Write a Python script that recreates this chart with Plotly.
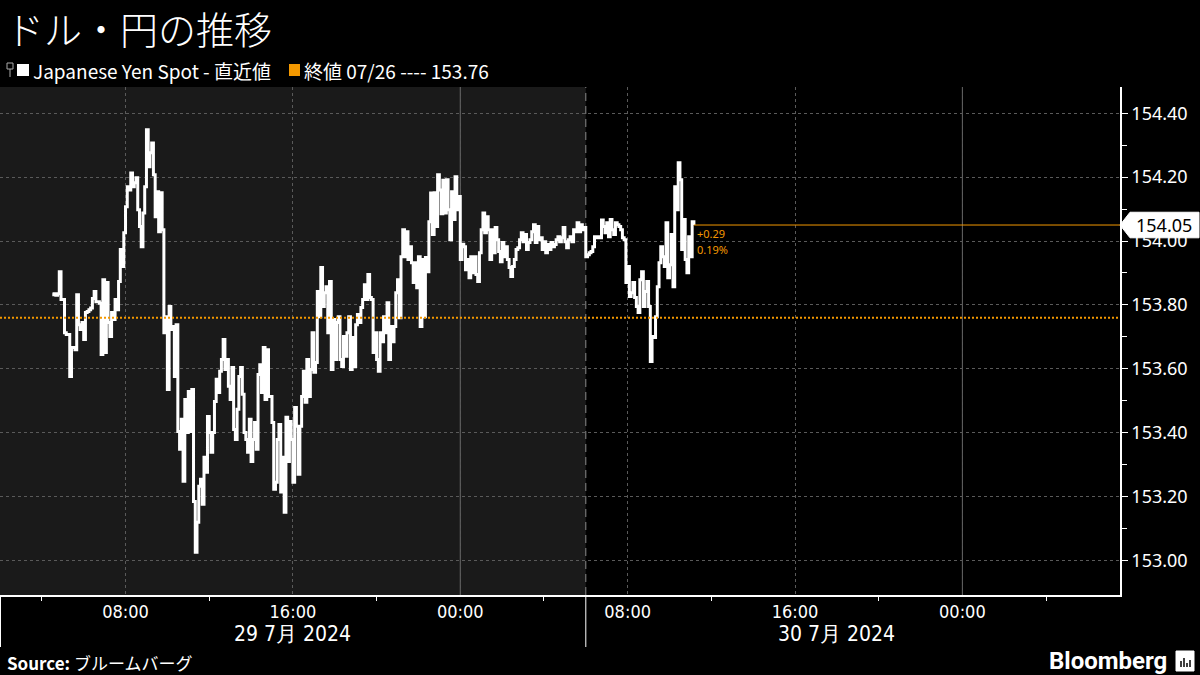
import plotly.graph_objects as go
import pandas as pd

# ---------------- data ----------------
TITLE = "ドル・円の推移"
SERIES_NAME = "Japanese Yen Spot - 直近値"
PREV_LABEL = "終値 07/26 ---- 153.76"
SOURCE_TEXT = "ブルームバーグ"
START = "2024-07-29 04:30"
STEP = "5min"
PREV_CLOSE = 153.76
LAST = 154.05

values = [
    153.832, 153.835, 153.830, 153.835, 153.904, 153.817, 153.817, 153.713, 153.707, 153.707,
    153.576, 153.667, 153.667, 153.660, 153.832, 153.738, 153.723, 153.745, 153.692, 153.776,
    153.779, 153.785, 153.790, 153.820, 153.842, 153.810, 153.810, 153.805, 153.645, 153.879,
    153.651, 153.870, 153.745, 153.701, 153.776, 153.754, 153.817, 153.785, 153.873, 153.973,
    153.920, 154.026, 154.107, 154.170, 154.160, 154.213, 154.170, 154.182, 154.198, 154.098,
    154.045, 153.982, 154.088, 154.170, 154.348, 154.232, 154.276, 154.307, 154.207, 154.076,
    154.154, 154.029, 154.151, 154.035, 153.713, 153.763, 153.535, 153.795, 153.723, 153.732,
    153.576, 153.738, 153.404, 153.348, 153.442, 153.248, 153.504, 153.401, 153.529, 153.404,
    153.535, 153.185, 153.026, 153.120, 153.232, 153.254, 153.176, 153.323, 153.276, 153.451,
    153.401, 153.339, 153.401, 153.498, 153.567, 153.526, 153.592, 153.629, 153.692, 153.598,
    153.629, 153.545, 153.504, 153.604, 153.410, 153.379, 153.473, 153.576, 153.604, 153.520,
    153.401, 153.379, 153.339, 153.442, 153.310, 153.379, 153.432, 153.348, 153.582, 153.613,
    153.526, 153.667, 153.504, 153.660, 153.513, 153.513, 153.432, 153.223, 153.245, 153.379,
    153.426, 153.214, 153.323, 153.151, 153.448, 153.310, 153.435, 153.379, 153.245, 153.479,
    153.420, 153.270, 153.420, 153.513, 153.592, 153.495, 153.629, 153.513, 153.598, 153.713,
    153.589, 153.620, 153.842, 153.763, 153.917, 153.795, 153.838, 153.857, 153.713, 153.873,
    153.598, 153.754, 153.629, 153.745, 153.763, 153.629, 153.607, 153.701, 153.639, 153.713,
    153.763, 153.598, 153.698, 153.607, 153.738, 153.770, 153.745, 153.792, 153.817, 153.863,
    153.817, 153.895, 153.823, 153.817, 153.651, 153.713, 153.629, 153.592, 153.713, 153.685,
    153.763, 153.713, 153.807, 153.629, 153.732, 153.685, 153.732, 153.838, 153.879, 153.760,
    153.951, 154.035, 153.951, 154.029, 153.942, 153.982, 153.932, 153.870, 153.932, 153.854,
    153.951, 153.732, 153.942, 153.763, 153.948, 153.904, 154.060, 154.150, 154.020, 154.151,
    154.045, 154.207, 154.160, 154.085, 154.190, 154.088, 154.192, 154.098, 154.004, 154.154,
    154.067, 154.201, 154.098, 154.139, 153.942, 153.990, 153.982, 153.910, 153.942, 153.885,
    153.951, 153.901, 153.951, 153.895, 153.873, 153.963, 154.035, 154.088, 154.026, 154.076,
    154.035, 153.942, 154.035, 153.963, 154.042, 154.004, 153.967, 153.935, 153.995, 153.951,
    153.982, 153.942, 153.917, 153.889, 153.920, 153.942, 153.973, 153.979, 154.004, 154.026,
    153.998, 154.020, 153.973, 153.995, 154.004, 154.029, 154.051, 153.995, 154.045, 154.004,
    154.010, 153.973, 153.998, 153.963, 153.989, 153.973, 153.995, 153.982, 153.989, 154.004,
    154.013, 153.998, 154.010, 154.042, 153.998, 153.979, 154.004, 154.013, 153.998, 154.035,
    154.029, 154.057, 154.029, 154.051, 154.035, 154.042, 153.951, 153.957, 153.963, 153.967,
    153.982, 154.013, 154.010, 154.013, 154.010, 154.066, 154.045, 154.026, 154.057, 154.013,
    154.067, 154.035, 154.020, 154.057, 154.051, 154.045, 154.035, 154.010, 154.004, 153.870,
    153.920, 153.826, 153.838, 153.870, 153.823, 153.795, 153.776, 153.879, 153.904, 153.795,
    153.842, 153.873, 153.795, 153.623, 153.701, 153.698, 153.763, 153.857, 153.932, 153.982,
    153.951, 153.920, 154.057, 153.885, 153.926, 154.020, 153.857, 154.170, 154.098, 154.245,
    154.192, 153.973, 154.067, 153.942, 153.901, 154.013, 153.951, 154.060, 154.050,
]

Y_TICKS = [153.00, 153.20, 153.40, 153.60, 153.80, 154.00, 154.20, 154.40]
Y_MINOR = [153.10, 153.30, 153.50, 153.70, 153.90, 154.10, 154.30]
X_TICKS = ["2024-07-29 08:00", "2024-07-29 16:00", "2024-07-30 00:00",
           "2024-07-30 08:00", "2024-07-30 16:00", "2024-07-31 00:00"]
X_TICK_TEXT = ["08:00", "16:00", "00:00", "08:00", "16:00", "00:00"]
X_MINOR = ["2024-07-29 04:00", "2024-07-29 12:00", "2024-07-29 20:00", "2024-07-30 04:00",
           "2024-07-30 12:00", "2024-07-30 20:00", "2024-07-31 04:00"]
MIDNIGHTS = ["2024-07-30 00:00", "2024-07-31 00:00"]
DAY_LABELS = ["29 7月 2024", "30 7月 2024"]
SESSION_BREAK = "2024-07-30 06:00"
X_RANGE = ["2024-07-29 02:00", "2024-07-31 07:32"]
Y_RANGE = [152.892, 154.482]

times = pd.date_range(START, periods=len(values), freq=STEP)

# ---------------- layout helpers ----------------
W, H = 1200, 675
ML, MR, MT, MB = 0, 80, 87, 80
PW, PH = W - ML - MR, H - MT - MB


def px(x):
    return (x - ML) / PW


def py(y):
    return (H - MB - y) / PH


ORANGE = "#f39800"
GRID = "#5a5a5a"
CJK = "Noto Sans CJK JP, Noto Sans, sans-serif"
NARROW = "DejaVu Sans Condensed, Liberation Sans Narrow, Roboto, sans-serif"

fig = go.Figure()

fig.add_trace(go.Scatter(
    x=times, y=values, mode="lines",
    line=dict(color="white", width=3, shape="hv"),
    hoverinfo="skip", showlegend=False,
))

fig.add_trace(go.Scatter(
    x=[times[-1], X_RANGE[1]], y=[LAST, LAST], mode="lines",
    line=dict(color=ORANGE, width=1), hoverinfo="skip", showlegend=False,
))

shapes = []
shapes.append(dict(type="rect", xref="x", yref="paper", x0=X_RANGE[0], x1=SESSION_BREAK,
                   y0=0, y1=1, fillcolor="#1a1a1a", line=dict(width=0), layer="below"))
for m in MIDNIGHTS:
    shapes.append(dict(type="line", xref="x", yref="paper", x0=m, x1=m, y0=0, y1=1,
                       line=dict(color="#6a6a6a", width=1), layer="below"))
shapes.append(dict(type="line", xref="x", yref="paper", x0=SESSION_BREAK, x1=SESSION_BREAK,
                   y0=0, y1=1, line=dict(color="#8a8a8a", width=1, dash="8px,5px"), layer="below"))
shapes.append(dict(type="line", xref="x", yref="paper", x0=SESSION_BREAK, x1=SESSION_BREAK,
                   y0=0, y1=py(647), line=dict(color="white", width=1)))
shapes.append(dict(type="line", xref="paper", yref="paper", x0=px(0.5), x1=px(0.5),
                   y0=0, y1=py(647), line=dict(color="white", width=1)))
shapes.append(dict(type="line", xref="paper", yref="y", x0=0, x1=1, y0=PREV_CLOSE, y1=PREV_CLOSE,
                   line=dict(color=ORANGE, width=2, dash="2px,2px")))
d = 0.04
path = (f"M {px(1120)},{LAST} L {px(1130)},{LAST + d} L {px(1199)},{LAST + d} "
        f"L {px(1199)},{LAST - d} L {px(1130)},{LAST - d} Z")
shapes.append(dict(type="path", xref="paper", yref="y", path=path,
                   fillcolor="white", line=dict(color="white", width=1), layer="above"))
shapes.append(dict(type="rect", xref="paper", yref="paper", x0=px(7), x1=px(13),
                   y0=py(69), y1=py(63), line=dict(color="#aaaaaa", width=1)))
shapes.append(dict(type="line", xref="paper", yref="paper", x0=px(10), x1=px(10),
                   y0=py(69), y1=py(77), line=dict(color="#aaaaaa", width=1)))
shapes.append(dict(type="rect", xref="paper", yref="paper", x0=px(17), x1=px(29),
                   y0=py(76), y1=py(64), fillcolor="white", line=dict(width=0)))
shapes.append(dict(type="rect", xref="paper", yref="paper", x0=px(289), x1=px(300),
                   y0=py(76), y1=py(64), fillcolor=ORANGE, line=dict(width=0)))
shapes.append(dict(type="rect", xref="paper", yref="paper", x0=px(1176), x1=px(1194),
                   y0=py(671), y1=py(651), fillcolor="white", line=dict(color="white", width=1)))
for bx, top in [(1181, 661), (1184, 658), (1187, 663), (1190, 660)]:
    shapes.append(dict(type="line", xref="paper", yref="paper", x0=px(bx), x1=px(bx),
                       y0=py(667), y1=py(top), line=dict(color="black", width=1.5)))

annotations = []
annotations.append(dict(text=TITLE, xref="paper", yref="paper", x=px(4), y=py(28),
                        xanchor="left", yanchor="middle", showarrow=False,
                        font=dict(family=CJK, size=38, color="white", weight=300)))
annotations.append(dict(text=SERIES_NAME, xref="paper", yref="paper", x=px(31), y=py(70),
                        xanchor="left", yanchor="middle", showarrow=False,
                        font=dict(family=CJK, size=19, color="white")))
annotations.append(dict(text=PREV_LABEL, xref="paper", yref="paper", x=px(302), y=py(70),
                        xanchor="left", yanchor="middle", showarrow=False,
                        font=dict(family=CJK, size=19, color="white")))
for lab, cx in zip(DAY_LABELS, [292, 836]):
    annotations.append(dict(text=lab, xref="paper", yref="paper", x=px(cx), y=py(634),
                            xanchor="center", yanchor="middle", showarrow=False,
                            font=dict(family=NARROW, size=21, color="white")))
annotations.append(dict(text=f"<b>Source:</b> {SOURCE_TEXT}", xref="paper", yref="paper",
                        x=px(5), y=py(662), xanchor="left", yanchor="middle", showarrow=False,
                        font=dict(family=CJK, size=17, color="white")))
annotations.append(dict(text="<b>Bloomberg</b>", xref="paper", yref="paper",
                        x=px(1169), y=py(661), xanchor="right", yanchor="middle", showarrow=False,
                        font=dict(family="Roboto, sans-serif", size=24, color="white")))
annotations.append(dict(text=f"{LAST:.2f}", xref="paper", yref="y", x=px(1164), y=LAST,
                        xanchor="center", yanchor="middle", showarrow=False,
                        font=dict(family="Noto Sans, sans-serif", size=18, color="black")))
chg = LAST - PREV_CLOSE
annotations.append(dict(text=f"+{chg:.2f}", xref="x", yref="y", x=times[-1], y=LAST,
                        xanchor="left", yanchor="middle", yshift=-8, xshift=1, showarrow=False,
                        font=dict(family="Noto Sans, sans-serif", size=11, color=ORANGE)))
annotations.append(dict(text=f"{chg / PREV_CLOSE * 100:.2f}%", xref="x", yref="y", x=times[-1],
                        y=LAST, xanchor="left", yanchor="middle", yshift=-24, xshift=1,
                        showarrow=False,
                        font=dict(family="Noto Sans, sans-serif", size=11, color=ORANGE)))

fig.update_layout(
    width=W, height=H,
    margin=dict(l=ML, r=MR, t=MT, b=MB),
    paper_bgcolor="black", plot_bgcolor="black",
    shapes=shapes, annotations=annotations,
    showlegend=False,
    xaxis=dict(
        type="date", range=X_RANGE, tickmode="array", tickvals=X_TICKS, ticktext=X_TICK_TEXT,
        showgrid=True, gridcolor=GRID, griddash="3px,3px", gridwidth=1,
        showline=True, linecolor="white", linewidth=1.5,
        ticks="", tickfont=dict(family=NARROW, size=18, color="white"),
        minor=dict(tickmode="array", tickvals=X_MINOR, ticks="outside", ticklen=4,
                   tickcolor="white", showgrid=False),
        zeroline=False, fixedrange=True,
    ),
    yaxis=dict(
        side="right", range=Y_RANGE, tickmode="array", tickvals=Y_TICKS,
        ticktext=[f"{v:.2f}" for v in Y_TICKS],
        showgrid=True, gridcolor=GRID, griddash="3px,3px", gridwidth=1,
        showline=True, linecolor="white", linewidth=1.5,
        ticks="outside", ticklen=6, tickcolor="white",
        tickfont=dict(family="Noto Sans, sans-serif", size=18, color="white"),
        minor=dict(tickmode="array", tickvals=Y_MINOR, ticks="outside", ticklen=5,
                   tickcolor="white", showgrid=False),
        zeroline=False, fixedrange=True,
    ),
)

fig.write_html("out.html", config={"displayModeBar": False},
               post_script="document.body.style.margin='0';document.body.style.background='black';")
